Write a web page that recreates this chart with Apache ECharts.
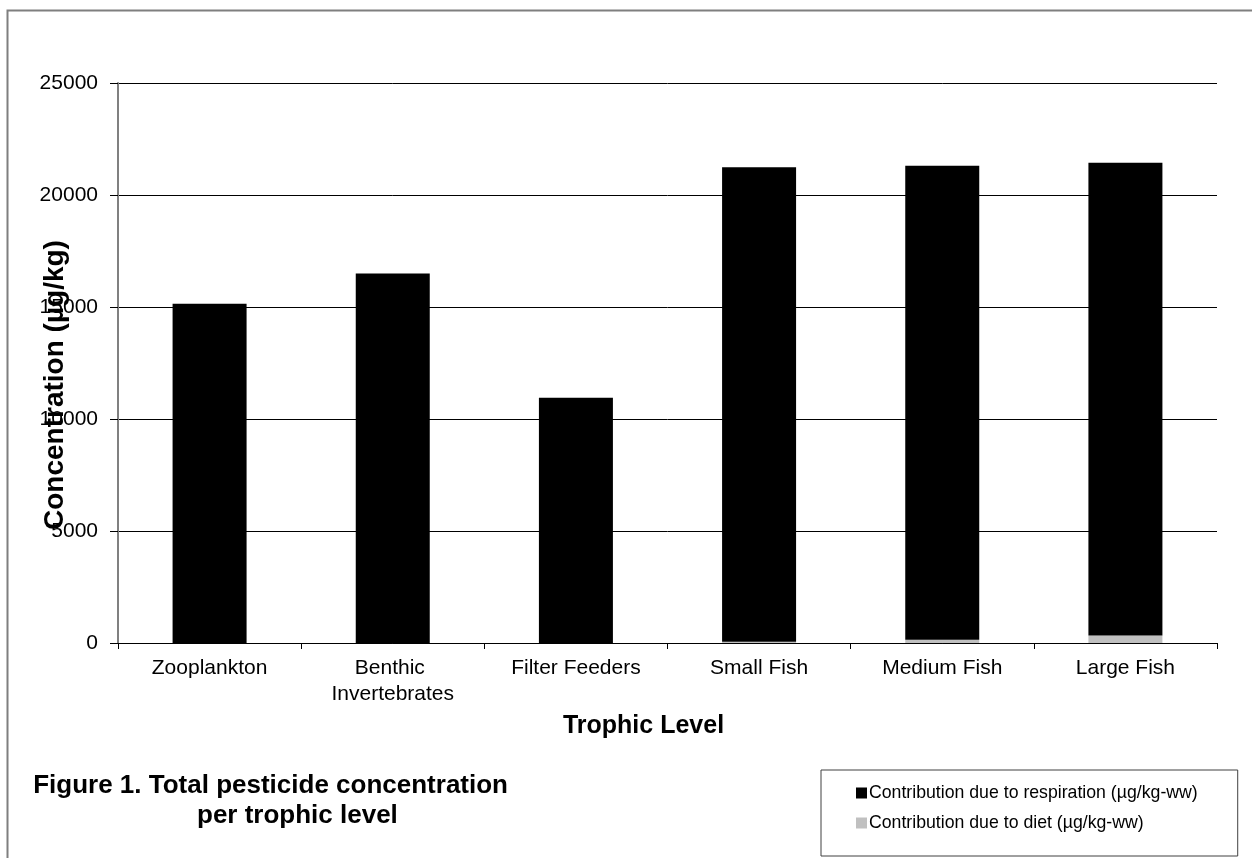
<!DOCTYPE html>
<html>
<head>
<meta charset="utf-8">
<script src="https://cdn.jsdelivr.net/npm/echarts@6/dist/echarts.min.js"></script>
<style>
html,body{margin:0;padding:0;background:#fff;}
#chart{width:1252px;height:858px;}
</style>
</head>
<body>
<div id="chart"></div>
<script>
var categories = ['Zooplankton', 'Benthic Invertebrates', 'Filter Feeders', 'Small Fish', 'Medium Fish', 'Large Fish'];
var respiration = [15150, 16500, 10950, 21180, 21160, 21110];
var diet = [0, 0, 0, 60, 150, 330];
var yTicks = [0, 5000, 10000, 15000, 20000, 25000];
var seriesNames = ['Contribution due to respiration (µg/kg-ww)', 'Contribution due to diet (µg/kg-ww)'];
var captionLines = ['Figure 1. Total pesticide concentration', 'per trophic level'];

var FONT = '"Liberation Sans", Arial, sans-serif';
var chart = echarts.init(document.getElementById('chart'), null, {renderer: 'canvas'});
chart.setOption({
  backgroundColor: '#ffffff',
  animation: false,
  textStyle: {fontFamily: FONT, color: '#000'},
  grid: {left: 118, right: 35, top: 83, bottom: 215, containLabel: false},
  legend: {
    orient: 'vertical',
    left: 821, top: 770,
    data: [seriesNames[0], seriesNames[1]],
    icon: 'rect',
    itemWidth: 11, itemHeight: 11,
    itemGap: 12,
    padding: [14, 40, 24, 35],
    borderColor: '#404040', borderWidth: 1,
    textStyle: {fontFamily: FONT, fontSize: 17.7, color: '#000', padding: [0, 0, 0, -3]},
    selectedMode: false
  },
  xAxis: {
    type: 'category',
    data: categories,
    axisLine: {lineStyle: {color: '#000', width: 1}},
    axisTick: {show: true, length: 6, lineStyle: {color: '#000'}},
    axisLabel: {interval: 0, fontSize: 21, lineHeight: 26, margin: 12, color: '#000', fontFamily: FONT, width: 160, overflow: 'break'},
    name: 'Trophic Level',
    nameLocation: 'middle',
    nameGap: 71,
    nameTextStyle: {fontSize: 25, fontWeight: 'bold', color: '#000', fontFamily: FONT, padding: [0, 48, 0, 0]}
  },
  yAxis: {
    type: 'value',
    min: yTicks[0], max: yTicks[yTicks.length - 1], interval: yTicks[1] - yTicks[0],
    axisLine: {show: true, lineStyle: {color: '#808080', width: 2}},
    axisTick: {show: true, length: 8, lineStyle: {color: '#000'}},
    axisLabel: {fontSize: 21, margin: 20, color: '#000', fontFamily: FONT, formatter: function (v) { return String(v); }},
    splitLine: {show: true, lineStyle: {color: '#000', width: 1}}
  },
  graphic: [
    {type: 'rect', left: 5, top: 8, shape: {width: 1300, height: 900}, style: {fill: 'none', stroke: '#7f7f7f', lineWidth: 2}, silent: true},
    {type: 'text', rotation: Math.PI / 2, x: 55, y: 385,
      style: {text: 'Concentration (µg/kg)', font: 'bold 28px ' + FONT, fill: '#000', textAlign: 'center', textVerticalAlign: 'middle'}, z: 100},
    {type: 'text', x: 508, y: 786,
      style: {text: captionLines[0], font: 'bold 26px ' + FONT, fill: '#000', textAlign: 'right', textVerticalAlign: 'middle'}},
    {type: 'text', x: 197, y: 816,
      style: {text: captionLines[1], font: 'bold 26px ' + FONT, fill: '#000', textAlign: 'left', textVerticalAlign: 'middle'}}
  ],
  series: [
    {name: seriesNames[1], type: 'bar', stack: 'total', data: diet, barWidth: 74, itemStyle: {color: '#c0c0c0'}},
    {name: seriesNames[0], type: 'bar', stack: 'total', data: respiration, barWidth: 74, itemStyle: {color: '#000000'}}
  ]
});
</script>
</body>
</html>
